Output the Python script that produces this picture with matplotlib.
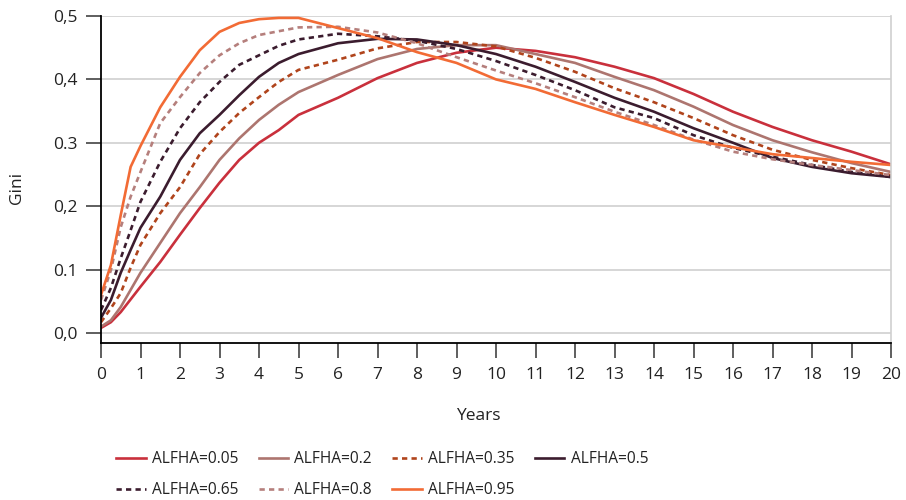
import numpy as np
import matplotlib.pyplot as plt

plt.rcParams['font.family'] = ['Open Sans', 'DejaVu Sans']

# time axis (years), finer steps early where the curves rise fast
years = [0, 0.25, 0.5, 0.75, 1, 1.5, 2, 2.5, 3, 3.5, 4, 4.5, 5,
         6, 7, 8, 9, 10, 11, 12, 13, 14, 15, 16, 17, 18, 19, 20]

gini_005 = [0.008, 0.017, 0.033, 0.053, 0.073, 0.112, 0.155, 0.197, 0.237, 0.273, 0.300, 0.320, 0.344,
            0.371, 0.402, 0.426, 0.442, 0.450, 0.445, 0.435, 0.420, 0.402, 0.377, 0.349, 0.325, 0.304, 0.286, 0.266]
gini_020 = [0.010, 0.020, 0.041, 0.068, 0.095, 0.142, 0.189, 0.230, 0.273, 0.307, 0.336, 0.360, 0.380,
            0.407, 0.432, 0.448, 0.454, 0.454, 0.440, 0.426, 0.404, 0.383, 0.357, 0.328, 0.304, 0.285, 0.268, 0.254]
gini_035 = [0.017, 0.039, 0.063, 0.103, 0.139, 0.189, 0.230, 0.282, 0.317, 0.347, 0.372, 0.396, 0.415,
            0.431, 0.449, 0.459, 0.459, 0.452, 0.434, 0.412, 0.386, 0.364, 0.339, 0.312, 0.289, 0.273, 0.260, 0.249]
gini_050 = [0.024, 0.052, 0.095, 0.131, 0.166, 0.215, 0.273, 0.315, 0.344, 0.375, 0.404, 0.426, 0.440,
            0.457, 0.464, 0.463, 0.454, 0.440, 0.420, 0.396, 0.371, 0.349, 0.323, 0.300, 0.276, 0.262, 0.252, 0.246]
gini_065 = [0.036, 0.071, 0.118, 0.162, 0.207, 0.270, 0.323, 0.364, 0.396, 0.423, 0.438, 0.453, 0.463,
            0.472, 0.468, 0.461, 0.448, 0.429, 0.407, 0.383, 0.356, 0.339, 0.312, 0.292, 0.278, 0.265, 0.254, 0.246]
gini_080 = [0.052, 0.099, 0.167, 0.215, 0.254, 0.331, 0.372, 0.410, 0.438, 0.457, 0.470, 0.476, 0.482,
            0.483, 0.474, 0.457, 0.435, 0.414, 0.394, 0.372, 0.349, 0.328, 0.305, 0.286, 0.274, 0.265, 0.257, 0.249]
gini_095 = [0.060, 0.107, 0.186, 0.262, 0.295, 0.356, 0.404, 0.446, 0.475, 0.489, 0.495, 0.497, 0.497,
            0.481, 0.465, 0.443, 0.426, 0.400, 0.385, 0.364, 0.344, 0.325, 0.304, 0.293, 0.282, 0.276, 0.270, 0.265]

labels = ['ALFHA=0.05', 'ALFHA=0.2', 'ALFHA=0.35', 'ALFHA=0.5',
          'ALFHA=0.65', 'ALFHA=0.8', 'ALFHA=0.95']
series = [gini_005, gini_020, gini_035, gini_050, gini_065, gini_080, gini_095]

colors = ['#c9303c', '#ad756f', '#b0441c', '#3b1c2e', '#3b1c2e', '#b57f7c', '#f26b35']
short_dash = (0, (2.0, 1.6))
styles = ['-', '-', short_dash, '-', short_dash, short_dash, '-']

yticks = [0.0, 0.1, 0.2, 0.3, 0.4, 0.5]
ytick_labels = ['0,0', '0.1', '0,2', '0.3', '0,4', '0,5']

fig = plt.figure(figsize=(9.06, 5.0), dpi=100)
ax = fig.add_axes([101 / 906, 1 - 343 / 500, 790 / 906, 327 / 500])

lines = []
for vals, lab, c, ls in zip(series, labels, colors, styles):
    ln, = ax.plot(years, vals, color=c, linestyle=ls, linewidth=1.9, label=lab)
    lines.append(ln)

ax.set_xlim(0, 20)
ax.set_ylim(-0.0158, 0.5)
ax.set_xticks(range(0, 21))
ax.set_yticks(yticks)
ax.set_yticklabels(ytick_labels)

# light horizontal grid, including the zero line
for yv in yticks:
    ax.axhline(yv, color='#cfcfcf', linewidth=1.2, zorder=0)

ax.spines['left'].set_color('black')
ax.spines['bottom'].set_color('black')
ax.spines['left'].set_linewidth(1.3)
ax.spines['bottom'].set_linewidth(1.3)
ax.spines['top'].set_visible(False)
ax.spines['right'].set_color('#cfcfcf')
ax.spines['right'].set_linewidth(1.2)

ax.tick_params(axis='both', direction='out', length=11, width=1.1,
               color='#333333', labelsize=12.5, labelcolor='#222222', pad=6)

fig.text(478 / 906, 1 - 416 / 500, 'Years', ha='center', va='center',
         fontsize=12.5, color='#222222')
fig.text(17 / 906, 1 - 188 / 500, 'Gini', ha='center', va='center',
         rotation=90, fontsize=12.5, color='#222222')

# legend is filled column by column, so reorder to read across rows
order = [0, 4, 1, 5, 2, 6, 3]
fig.legend([lines[i] for i in order], [labels[i] for i in order],
           loc='upper left', bbox_to_anchor=(110 / 906, 1 - 445 / 500),
           ncol=4, frameon=False, fontsize=11.2, handlelength=1.9,
           handletextpad=0.4, columnspacing=1.3, labelspacing=0.95,
           borderaxespad=0, labelcolor='#222222')

fig.savefig('out.png', dpi=100)
